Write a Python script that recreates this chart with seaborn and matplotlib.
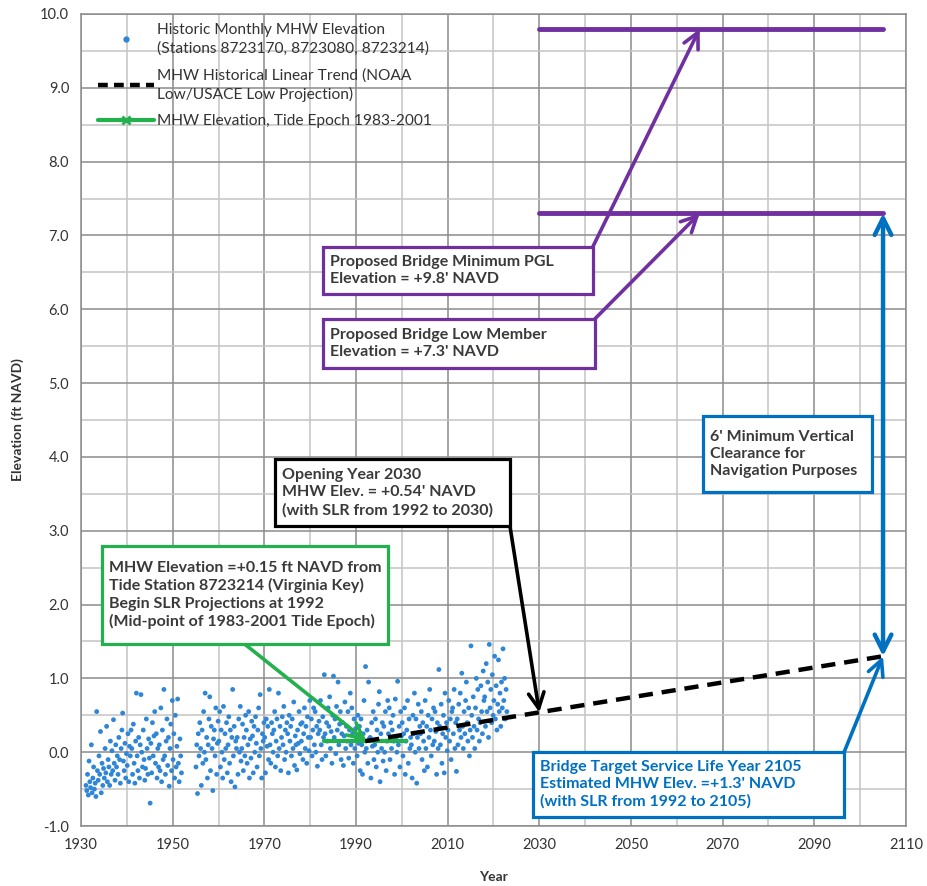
import numpy as np
import pandas as pd
import seaborn as sns
import matplotlib.pyplot as plt
from matplotlib.lines import Line2D
from matplotlib.patches import Rectangle
from matplotlib.ticker import FixedLocator, MultipleLocator, FormatStrFormatter

# --- Historic monthly MHW elevation (ft NAVD), six readings per year ---
years_early = list(range(1931, 1952))
vals_early = [
    [-0.45, -0.52, -0.30, -0.58, -0.12, -0.40],
    [-0.48, 0.10, -0.55, -0.35, -0.20, -0.50],
    [-0.42, -0.60, 0.55, -0.25, -0.38, -0.05],
    [-0.30, 0.28, -0.55, -0.15, -0.45, -0.22],
    [-0.35, 0.05, -0.28, 0.35, -0.40, -0.10],
    [-0.20, -0.45, 0.15, -0.30, 0.02, -0.25],
    [0.44, -0.15, -0.38, 0.10, -0.20, -0.05],
    [-0.30, 0.20, -0.10, -0.42, 0.05, 0.30],
    [0.53, -0.12, -0.25, 0.12, -0.35, -0.02],
    [-0.18, 0.25, -0.40, 0.08, -0.05, 0.30],
    [0.05, -0.30, 0.38, -0.15, -0.42, 0.15],
    [0.80, -0.05, -0.25, 0.20, -0.35, 0.10],
    [0.78, 0.00, -0.20, 0.30, -0.10, -0.38],
    [-0.22, 0.45, 0.05, -0.30, 0.18, -0.08],
    [-0.69, 0.12, -0.28, 0.40, -0.05, 0.22],
    [0.55, -0.15, 0.25, -0.35, 0.05, -0.20],
    [0.10, -0.25, 0.60, -0.40, 0.30, -0.10],
    [0.85, -0.05, -0.30, 0.15, 0.45, -0.18],
    [0.20, -0.46, 0.05, 0.38, -0.25, 0.70],
    [-0.10, 0.25, -0.35, 0.50, -0.20, 0.08],
    [0.72, -0.15, -0.40, 0.18, -0.05, -0.28],
]

years_late = list(range(1955, 2023))
vals_late = [
    [-0.20, 0.10, -0.56, 0.25, -0.05, 0.40],
    [0.05, -0.45, 0.30, -0.15, 0.55, 0.00],
    [0.80, -0.10, 0.20, -0.35, 0.10, 0.45],
    [0.75, -0.25, 0.35, 0.05, -0.52, 0.18],
    [0.30, -0.05, 0.60, -0.30, 0.12, 0.42],
    [0.15, 0.55, -0.20, 0.30, 0.00, -0.35],
    [0.62, -0.10, 0.25, 0.05, 0.40, -0.28],
    [0.10, 0.48, -0.15, 0.30, -0.40, 0.20],
    [0.85, -0.05, 0.35, -0.47, 0.15, 0.05],
    [0.20, -0.30, 0.45, 0.00, 0.62, -0.12],
    [0.05, 0.38, -0.25, 0.20, -0.05, 0.50],
    [0.30, -0.15, 0.10, 0.55, -0.35, 0.18],
    [-0.08, 0.42, 0.22, -0.28, 0.35, 0.00],
    [0.48, 0.12, -0.20, 0.30, 0.60, -0.05],
    [0.78, 0.05, -0.35, 0.25, 0.15, 0.40],
    [0.20, -0.28, 0.45, 0.08, 0.35, -0.10],
    [0.85, 0.10, -0.15, 0.40, 0.25, 0.00],
    [0.30, 0.55, -0.20, 0.15, 0.45, -0.05],
    [0.80, 0.05, 0.35, -0.25, 0.20, 0.48],
    [0.10, 0.62, -0.10, 0.30, 0.00, 0.40],
    [0.25, -0.28, 0.50, 0.15, 0.35, -0.05],
    [0.45, 0.05, 0.68, -0.18, 0.22, 0.10],
    [-0.24, 0.30, 0.12, 0.55, -0.02, 0.38],
    [0.15, 0.40, -0.10, 0.25, 0.60, 0.05],
    [0.35, -0.15, 0.48, 0.20, 0.02, 0.70],
    [0.20, 0.45, -0.05, 0.30, 0.60, 0.10],
    [0.55, 0.00, 0.35, -0.19, 0.25, 0.42],
    [0.30, 0.70, 0.10, -0.10, 0.48, 0.20],
    [1.05, 0.25, -0.05, 0.40, 0.15, 0.60],
    [0.35, 0.75, 0.05, 0.28, -0.15, 0.50],
    [1.03, 0.20, 0.45, -0.02, 0.62, 0.30],
    [0.95, 0.10, 0.38, 0.55, -0.10, 0.25],
    [0.40, -0.18, 0.22, 0.68, 0.05, 0.35],
    [0.15, 0.55, -0.08, 0.30, 0.80, 0.10],
    [0.60, 0.25, -0.15, 0.45, 0.05, 0.32],
    [0.20, -0.05, 0.50, 0.12, 0.35, -0.25],
    [0.45, 0.10, -0.30, 0.25, 0.70, 0.00],
    [1.16, 0.05, 0.30, -0.15, 0.95, 0.18],
    [0.20, -0.35, 0.40, 0.08, 0.55, -0.10],
    [0.10, 0.45, -0.20, 0.30, 0.00, 0.65],
    [0.82, -0.40, 0.25, 0.05, 0.40, -0.12],
    [0.35, 0.00, 0.55, -0.25, 0.15, 0.70],
    [0.25, 0.60, -0.10, 0.40, 0.05, 0.30],
    [0.50, 0.15, -0.30, 0.72, 0.20, 0.00],
    [0.96, 0.10, 0.35, -0.20, 0.55, 0.22],
    [0.40, -0.05, 0.25, 0.60, -0.30, 0.15],
    [0.30, 0.70, -0.15, 0.45, 0.05, 0.20],
    [0.10, -0.35, 0.50, 0.25, 0.80, 0.00],
    [0.45, -0.42, 0.20, 0.65, 0.05, 0.35],
    [0.25, 0.55, -0.10, 0.40, 0.15, -0.25],
    [0.70, 0.05, 0.35, -0.20, 0.50, 0.20],
    [0.85, 0.30, -0.05, 0.45, 0.10, 0.60],
    [0.15, 0.55, 0.28, -0.30, 0.40, 0.05],
    [1.12, 0.35, 0.10, 0.65, -0.15, 0.25],
    [0.50, -0.28, 0.80, 0.20, 0.40, 0.02],
    [0.30, 0.70, 0.15, 0.45, -0.10, 0.55],
    [0.60, 0.25, 0.85, 0.05, 0.40, -0.26],
    [0.45, 0.10, 0.65, 0.30, 0.80, 0.20],
    [1.07, 0.35, 0.05, 0.55, 0.25, 0.70],
    [0.95, 0.40, 0.15, 0.60, -0.05, 0.30],
    [1.44, 0.50, 0.20, 0.75, 0.35, 0.05],
    [0.60, 1.00, 0.30, 0.85, 0.45, 0.15],
    [0.40, 0.90, 0.55, 0.25, 1.10, 0.70],
    [0.75, 0.35, 1.20, 0.55, 0.95, 0.20],
    [1.46, 0.60, 0.85, 0.40, 1.05, 0.50],
    [0.70, 1.30, 0.45, 0.90, 0.30, 0.65],
    [1.25, 0.55, 0.80, 0.35, 0.95, 0.60],
    [1.40, 0.70, 1.00, 0.45, 0.85, 0.55],
]

# --- Trend and reference levels ---
trend_years = [1992, 2030, 2105]
trend_vals = [0.15, 0.54, 1.30]
epoch_years = [1983, 2001]
epoch_vals = [0.15, 0.15]
pgl_elev = 9.8
low_member_elev = 7.3
level_years = [2030, 2105]
x_ticks = list(range(1930, 2111, 20))

# colours
c_dots = '#2F86D6'
c_green = '#22B14C'
c_purple = '#7030A0'
c_blue = '#0070C0'
c_text = '#3A3A3A'


def build_frame():
    rows = []
    for yrs, vals in [(years_early, vals_early), (years_late, vals_late)]:
        for yr, row in zip(yrs, vals):
            n = len(row)
            for k, v in enumerate(row):
                rows.append({'year': yr + (k + 0.5) / n, 'mhw': v})
    return pd.DataFrame(rows)


df = build_frame()

sns.set_style('white')
plt.rcParams['font.family'] = ['Lato', 'DejaVu Sans']

fig = plt.figure(figsize=(9.27, 8.86), dpi=100)
ax = fig.add_axes([0.0874, 0.0677, 0.8899, 0.9165])

# grid
ax.set_xlim(1930, 2110)
ax.set_ylim(-1.0, 10.0)
ax.xaxis.set_major_locator(FixedLocator(x_ticks))
ax.xaxis.set_minor_locator(MultipleLocator(10))
ax.yaxis.set_major_locator(MultipleLocator(1.0))
ax.yaxis.set_minor_locator(MultipleLocator(0.5))
ax.yaxis.set_major_formatter(FormatStrFormatter('%.1f'))
ax.grid(which='major', color='#8c8c8c', lw=1.1, zorder=0)
ax.grid(which='minor', color='#c4c4c4', lw=1.1, zorder=0)
ax.set_axisbelow(True)
for sp in ax.spines.values():
    sp.set_color('#8c8c8c')
    sp.set_linewidth(1.1)
ax.tick_params(which='both', direction='out', length=5, color='#8c8c8c',
               labelsize=10.5, labelcolor='#333333')
ax.tick_params(which='minor', length=4)

# data
sns.scatterplot(data=df, x='year', y='mhw', ax=ax, s=12, color=c_dots,
                edgecolor='none', zorder=3, legend=False)
ax.plot(epoch_years, epoch_vals, color=c_green, lw=3, zorder=4)
ax.plot(trend_years, trend_vals, color='black', lw=3.2, ls=(0, (3.2, 2)),
        zorder=5)
ax.plot(level_years, [pgl_elev, pgl_elev], color=c_purple, lw=3.5,
        solid_capstyle='round', zorder=4)
ax.plot(level_years, [low_member_elev, low_member_elev], color=c_purple,
        lw=3.5, solid_capstyle='round', zorder=4)

ax.set_xlabel('Year', fontsize=10, fontweight='bold', color='#333333',
              labelpad=14)
ax.set_ylabel('Elevation (ft NAVD)', fontsize=10, fontweight='bold',
              color='#333333', labelpad=12)

# legend
handles = [
    Line2D([], [], ls='none', marker='o', ms=3.5, color=c_dots),
    Line2D([], [], color='black', lw=3.2, ls=(0, (2.2, 1.4))),
    Line2D([], [], color=c_green, lw=3, marker='x', ms=6, mew=2),
]
labels = [
    'Historic Monthly MHW Elevation\n(Stations 8723170, 8723080, 8723214)',
    'MHW Historical Linear Trend (NOAA\nLow/USACE Low Projection)',
    'MHW Elevation, Tide Epoch 1983-2001',
]
leg = ax.legend(handles, labels, loc='upper left', bbox_to_anchor=(0.004, 1.006),
                frameon=False, fontsize=11.2, handlelength=3.6,
                handletextpad=0.15, labelspacing=0.8, labelcolor='#333333')
for t in leg.get_texts():
    t.set_linespacing(1.35)


def callout(text, box, tip, corner, color, txtcolor=c_text):
    # box = (x0, x1, y0, y1) in data units; corner = where the arrow leaves
    x0, x1, y0, y1 = box
    ax.add_patch(Rectangle((x0, y0), x1 - x0, y1 - y0, fc='white', ec=color,
                           lw=2.3, zorder=7))
    ax.text(x0 + 1.6, (y0 + y1) / 2, text, ha='left', va='center',
            fontsize=11.5, fontweight='bold', color=txtcolor,
            linespacing=1.28, zorder=8)
    if tip is not None:
        ax.annotate('', xy=tip, xytext=corner,
                    arrowprops=dict(arrowstyle='->', color=color, lw=2.6,
                                    mutation_scale=28, shrinkA=0, shrinkB=0),
                    zorder=6)


callout("Proposed Bridge Minimum PGL\nElevation = +9.8' NAVD",
        (1982.8, 2041.7, 6.21, 6.85), (2065, pgl_elev), (2041.7, 6.85),
        c_purple)
callout("Proposed Bridge Low Member\nElevation = +7.3' NAVD",
        (1982.8, 2042.2, 5.20, 5.875), (2065, low_member_elev),
        (2042.2, 5.875), c_purple)
callout("Opening Year 2030\nMHW Elev. = +0.54' NAVD\n(with SLR from 1992 to 2030)",
        (1972.3, 2023.6, 3.06, 3.97), (trend_years[1], trend_vals[1]),
        (2023.6, 3.06), 'black')
callout("MHW Elevation =+0.15 ft NAVD from\nTide Station 8723214 (Virginia Key)\n"
        "Begin SLR Projections at 1992\n(Mid-point of 1983-2001 Tide Epoch)",
        (1934.5, 1997.0, 1.46, 2.80), (1992.3, 0.15), (1965.8, 1.46), c_green)
callout("Bridge Target Service Life Year 2105\nEstimated MHW Elev. =+1.3' NAVD\n"
        "(with SLR from 1992 to 2105)",
        (2028.6, 2096.5, -0.88, 0.0), (trend_years[2], trend_vals[2]),
        (2096.5, 0.0), c_blue, txtcolor=c_blue)

# vertical clearance arrow
ax.annotate('', xy=(2105, trend_vals[2]), xytext=(2105, low_member_elev),
            arrowprops=dict(arrowstyle='<->', color=c_blue, lw=3.2,
                            mutation_scale=30, shrinkA=0, shrinkB=0),
            zorder=6)
callout("6' Minimum Vertical\nClearance for\nNavigation Purposes",
        (2065.7, 2102.5, 3.52, 4.56), None, None, c_blue)

fig.savefig('out.png', dpi=100)
